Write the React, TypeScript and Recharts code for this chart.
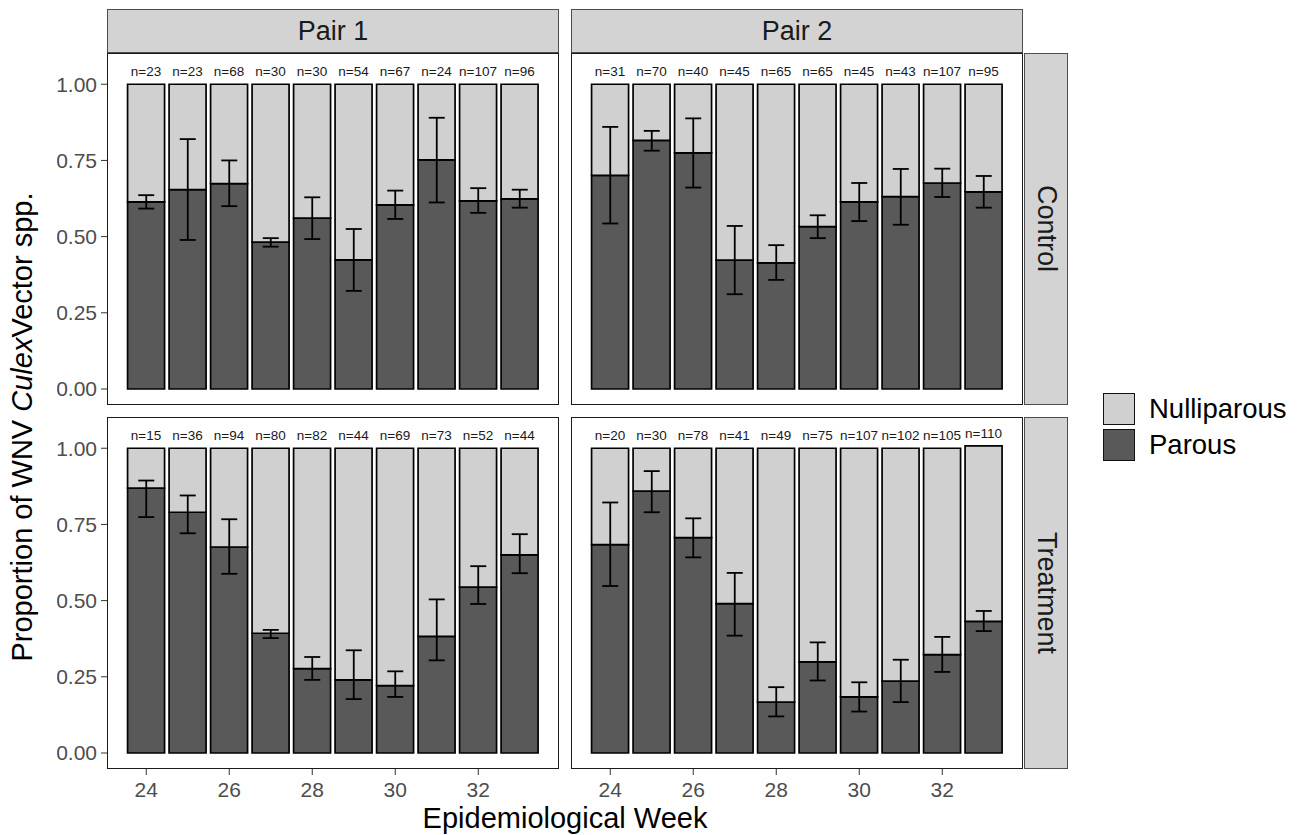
import React from 'react'
import { Bar, ComposedChart, ErrorBar, LabelList, Line, XAxis, YAxis } from 'recharts'

const weeks = [24, 25, 26, 27, 28, 29, 30, 31, 32, 33]
const yTicks = [0, 0.25, 0.5, 0.75, 1]

// Pair 1 / Control
const p1cParous = [0.614, 0.654, 0.674, 0.482, 0.561, 0.424, 0.604, 0.752, 0.617, 0.624]
const p1cNulli = [0.386, 0.346, 0.326, 0.518, 0.439, 0.576, 0.396, 0.248, 0.383, 0.376]
const p1cLow = [0.592, 0.489, 0.6, 0.467, 0.492, 0.322, 0.558, 0.612, 0.578, 0.595]
const p1cHigh = [0.636, 0.82, 0.75, 0.495, 0.629, 0.525, 0.651, 0.89, 0.659, 0.654]
const p1cN = [23, 23, 68, 30, 30, 54, 67, 24, 107, 96]

// Pair 2 / Control
const p2cParous = [0.701, 0.816, 0.775, 0.423, 0.414, 0.533, 0.614, 0.631, 0.676, 0.647]
const p2cNulli = [0.299, 0.184, 0.225, 0.577, 0.586, 0.467, 0.386, 0.369, 0.324, 0.353]
const p2cLow = [0.543, 0.782, 0.661, 0.311, 0.358, 0.495, 0.551, 0.539, 0.63, 0.595]
const p2cHigh = [0.86, 0.847, 0.888, 0.535, 0.472, 0.57, 0.676, 0.722, 0.723, 0.699]
const p2cN = [31, 70, 40, 45, 65, 65, 45, 43, 107, 95]

// Pair 1 / Treatment
const p1tParous = [0.869, 0.79, 0.676, 0.393, 0.277, 0.24, 0.221, 0.383, 0.544, 0.65]
const p1tNulli = [0.131, 0.21, 0.324, 0.607, 0.723, 0.76, 0.779, 0.617, 0.456, 0.35]
const p1tLow = [0.774, 0.721, 0.588, 0.377, 0.24, 0.177, 0.184, 0.304, 0.489, 0.59]
const p1tHigh = [0.894, 0.845, 0.767, 0.404, 0.315, 0.337, 0.268, 0.504, 0.613, 0.718]
const p1tN = [15, 36, 94, 80, 82, 44, 69, 73, 52, 44]

// Pair 2 / Treatment
const p2tParous = [0.684, 0.859, 0.707, 0.49, 0.167, 0.299, 0.184, 0.236, 0.323, 0.432]
const p2tNulli = [0.316, 0.141, 0.293, 0.51, 0.833, 0.701, 0.816, 0.764, 0.677, 0.576]
const p2tLow = [0.548, 0.79, 0.642, 0.385, 0.12, 0.238, 0.136, 0.167, 0.266, 0.4]
const p2tHigh = [0.822, 0.925, 0.77, 0.591, 0.216, 0.363, 0.232, 0.306, 0.381, 0.466]
const p2tN = [20, 30, 78, 41, 49, 75, 107, 102, 105, 110]

const PAROUS = '#595959'
const NULLI = '#d0d0d0'
const FONT = '"Liberation Sans", Arial, sans-serif'

function buildRows(parous: number[], nulli: number[], low: number[], high: number[], n: number[]) {
  return weeks.map((week, i) => ({
    week,
    parous: parous[i],
    nulliparous: nulli[i],
    err: [parous[i] - low[i], high[i] - parous[i]],
    n: n[i],
  }))
}

const PANEL_W = 452
const PANEL_H = 352
const Y_AXIS_W = 50
const X_AXIS_H = 40

interface PanelProps {
  rows: ReturnType<typeof buildRows>
  left: number
  top: number
  showY: boolean
  showX: boolean
}

function Panel({ rows, left, top, showY, showX }: PanelProps) {
  const w = PANEL_W + (showY ? Y_AXIS_W : 0)
  const h = PANEL_H + (showX ? X_AXIS_H : 0)
  return (
    <>
      <div style={{ position: 'absolute', left: left - (showY ? Y_AXIS_W : 0), top }}>
        <ComposedChart width={w} height={h} data={rows} margin={{ top: 0, right: 0, bottom: 0, left: 0 }} barCategoryGap="5%">
          <XAxis
            dataKey="week"
            hide={!showX}
            height={X_AXIS_H}
            interval={1}
            padding={{ left: 18.5, right: 18.5 }}
            axisLine={false}
            tickLine={{ stroke: '#333333' }}
            tickSize={6}
            tickMargin={7}
            tick={{ fill: '#4d4d4d', fontSize: 21 }}
          />
          <YAxis
            type="number"
            hide={!showY}
            width={Y_AXIS_W}
            domain={[-0.0525, 1.1025]}
            allowDataOverflow
            ticks={yTicks}
            tickFormatter={(v: number) => v.toFixed(2)}
            axisLine={false}
            tickLine={{ stroke: '#333333' }}
            tickSize={6}
            tickMargin={4}
            tick={{ fill: '#4d4d4d', fontSize: 21 }}
          />
          <Bar dataKey="parous" stackId="s" fill={PAROUS} stroke="#000000" strokeWidth={1.7} isAnimationActive={false} />
          <Bar dataKey="nulliparous" stackId="s" fill={NULLI} stroke="#000000" strokeWidth={1.7} isAnimationActive={false}>
            <LabelList
              dataKey="n"
              position="top"
              offset={8}
              formatter={(v: number) => `n=${v}`}
              fontSize={13.5}
              fill="#1a1a1a"
              stroke="none"
            />
          </Bar>
          <Line dataKey="parous" stroke="none" dot={false} activeDot={false} legendType="none" isAnimationActive={false}>
            <ErrorBar dataKey="err" width={8} stroke="#000000" strokeWidth={1.8} direction="y" />
          </Line>
        </ComposedChart>
      </div>
      <div
        style={{
          position: 'absolute',
          left,
          top,
          width: PANEL_W,
          height: PANEL_H,
          boxSizing: 'border-box',
          border: '1.5px solid #1a1a1a',
          pointerEvents: 'none',
        }}
      />
    </>
  )
}

const stripBase: React.CSSProperties = {
  position: 'absolute',
  boxSizing: 'border-box',
  background: '#d3d3d3',
  border: '1px solid #4d4d4d',
  display: 'flex',
  alignItems: 'center',
  justifyContent: 'center',
  color: '#1a1a1a',
  fontSize: 27,
}

export default function App() {
  const colLeft = [107, 571]
  const rowTop = [53, 417]
  return (
    <div
      style={{
        position: 'absolute',
        left: 0,
        top: 0,
        width: 1301,
        height: 835,
        overflow: 'hidden',
        background: '#ffffff',
        fontFamily: FONT,
      }}
    >
      <Panel rows={buildRows(p1cParous, p1cNulli, p1cLow, p1cHigh, p1cN)} left={colLeft[0]} top={rowTop[0]} showY showX={false} />
      <Panel rows={buildRows(p2cParous, p2cNulli, p2cLow, p2cHigh, p2cN)} left={colLeft[1]} top={rowTop[0]} showY={false} showX={false} />
      <Panel rows={buildRows(p1tParous, p1tNulli, p1tLow, p1tHigh, p1tN)} left={colLeft[0]} top={rowTop[1]} showY showX />
      <Panel rows={buildRows(p2tParous, p2tNulli, p2tLow, p2tHigh, p2tN)} left={colLeft[1]} top={rowTop[1]} showY={false} showX />

      <div style={{ ...stripBase, left: colLeft[0], top: 9, width: PANEL_W, height: 44 }}>Pair 1</div>
      <div style={{ ...stripBase, left: colLeft[1], top: 9, width: PANEL_W, height: 44 }}>Pair 2</div>
      <div style={{ ...stripBase, left: 1024, top: rowTop[0], width: 44, height: PANEL_H, writingMode: 'vertical-rl' }}>Control</div>
      <div style={{ ...stripBase, left: 1024, top: rowTop[1], width: 44, height: PANEL_H, writingMode: 'vertical-rl' }}>Treatment</div>

      <div
        style={{
          position: 'absolute',
          left: 22,
          top: 427,
          transform: 'translate(-50%, -50%) rotate(-90deg)',
          whiteSpace: 'nowrap',
          fontSize: 29,
          color: '#000000',
        }}
      >
        Proportion of WNV <i>Culex</i>Vector spp.
      </div>
      <div
        style={{
          position: 'absolute',
          left: 565,
          top: 818,
          transform: 'translate(-50%, -50%)',
          whiteSpace: 'nowrap',
          fontSize: 29,
          color: '#000000',
        }}
      >
        Epidemiological Week
      </div>

      {[
        { label: 'Nulliparous', fill: NULLI, top: 393 },
        { label: 'Parous', fill: PAROUS, top: 429 },
      ].map((item) => (
        <div key={item.label} style={{ position: 'absolute', left: 1103, top: item.top, display: 'flex', alignItems: 'center' }}>
          <div style={{ width: 32, height: 32, boxSizing: 'border-box', background: item.fill, border: '1.5px solid #111111' }} />
          <span style={{ marginLeft: 14, fontSize: 27.5, color: '#000000', whiteSpace: 'nowrap' }}>{item.label}</span>
        </div>
      ))}
    </div>
  )
}
